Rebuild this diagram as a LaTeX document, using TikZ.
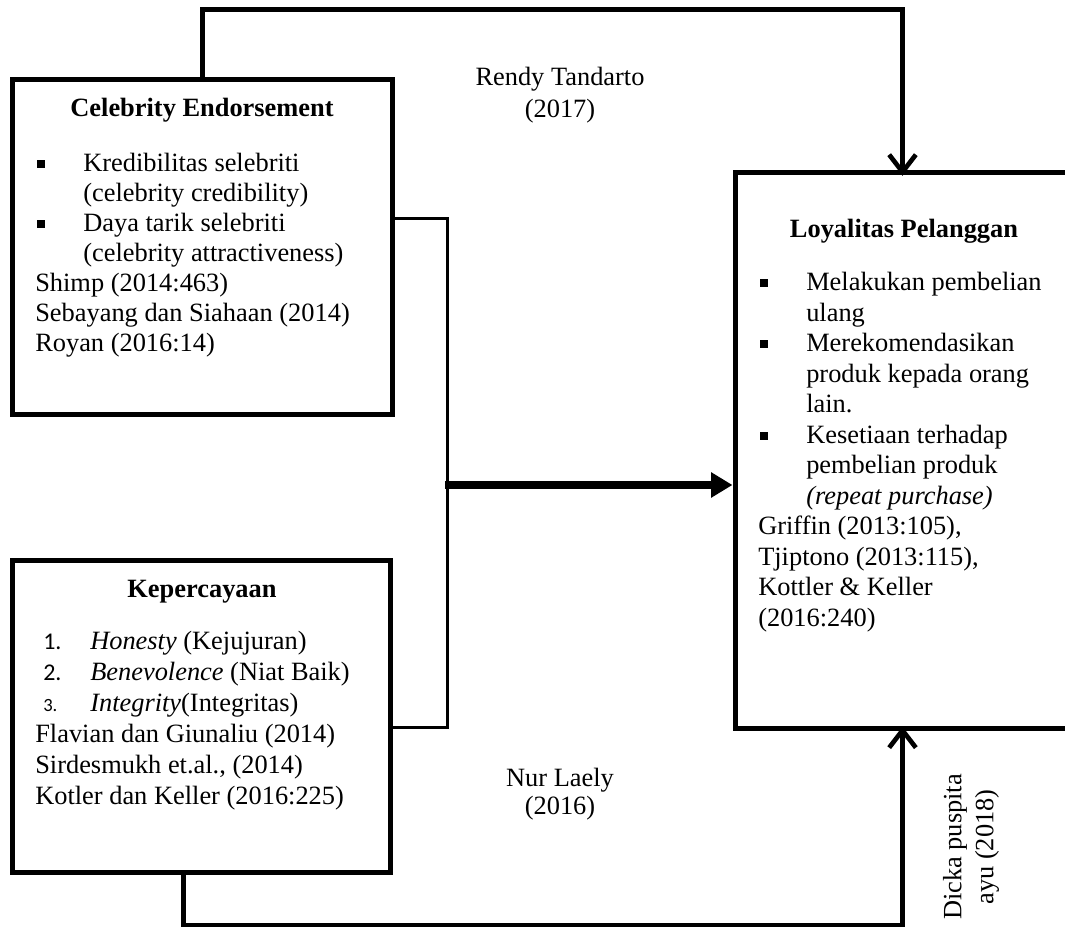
\documentclass[tikz,border=0pt]{standalone}
\usepackage{fontspec}
\setmainfont{Liberation Serif}
\newfontfamily\numfont{Carlito}
\usetikzlibrary{arrows.meta}
\newcommand\sqb{\hspace{1.5pt}\rule[0.14em]{0.3em}{0.3em}}
\begin{document}
\begin{tikzpicture}[x=0.75pt,y=-0.75pt,
  font=\fontsize{19.8}{22.5}\selectfont,
  box/.style={draw, line width=3.75pt, inner sep=0pt},
  conn/.style={line width=3.75pt},
  thinconn/.style={line width=2.25pt},
  fatconn/.style={line width=6pt, -{Triangle[length=16pt,width=18pt]}},
  barb/.style={-{Straight Barb[length=13pt,width=20pt,line width=3.5pt]}},
  txt/.style={inner sep=0pt, anchor=north west}]
\useasboundingbox (0,0) rectangle (1065,927);
% boxes
\node[box, minimum width=285pt, minimum height=251.25pt] (cel) at (202,247.5) {};
\node[box, minimum width=283.5pt, minimum height=234pt] (kep) at (201,716) {};
\node[box, minimum width=251.25pt, minimum height=416.25pt] (loy) at (902.5,450.5) {};
% titles
\node[anchor=base] (celt) at (202,117) {\bfseries Celebrity Endorsement};
\node[anchor=base] (kept) at (202,597) {\bfseries Kepercayaan};
\node[anchor=base] (loyt) at (904,238) {\bfseries Loyalitas Pelanggan};
% contents
\node[txt] (celx) at (35,150) {\begin{tabular}{@{}p{36pt}@{}l@{}}
\sqb & Kredibilitas selebriti\\
 & (celebrity credibility)\\
\sqb & Daya tarik selebriti\\
 & (celebrity attractiveness)\\
\multicolumn{2}{@{}l@{}}{Shimp (2014:463)}\\
\multicolumn{2}{@{}l@{}}{Sebayang dan Siahaan (2014)}\\
\multicolumn{2}{@{}l@{}}{Royan (2016:14)}
\end{tabular}};
\node[txt, font=\fontsize{19.8}{23.2}\selectfont] (kepx) at (35,628) {\begin{tabular}{@{}p{41.25pt}@{}l@{}}
\hspace{6pt}{\numfont\fontsize{18}{20}\selectfont 1.} & \textit{Honesty} (Kejujuran)\\
\hspace{6pt}{\numfont\fontsize{18}{20}\selectfont 2.} & \textit{Benevolence} (Niat Baik)\\
\hspace{6pt}{\numfont\fontsize{14}{16}\selectfont 3.} & \textit{Integrity}(Integritas)\\
\multicolumn{2}{@{}l@{}}{Flavian dan Giunaliu (2014)}\\
\multicolumn{2}{@{}l@{}}{Sirdesmukh et.al., (2014)}\\
\multicolumn{2}{@{}l@{}}{Kotler dan Keller (2016:225)}
\end{tabular}};
\node[txt, font=\fontsize{19.8}{22.9}\selectfont] (loyx) at (758,269) {\begin{tabular}{@{}p{36pt}@{}l@{}}
\sqb & Melakukan pembelian\\
 & ulang\\
\sqb & Merekomendasikan\\
 & produk kepada orang\\
 & lain.\\
\sqb & Kesetiaan terhadap\\
 & pembelian produk\\
 & \textit{(repeat purchase)}\\
\multicolumn{2}{@{}l@{}}{Griffin (2013:105),}\\
\multicolumn{2}{@{}l@{}}{Tjiptono (2013:115),}\\
\multicolumn{2}{@{}l@{}}{Kottler \& Keller}\\
\multicolumn{2}{@{}l@{}}{(2016:240)}
\end{tabular}};
% labels
\node[align=center, font=\fontsize{19.8}{24}\selectfont] (rt) at (560,95) {Rendy Tandarto\\(2017)};
\node[align=center, font=\fontsize{19.8}{21}\selectfont] (nl) at (560,794) {Nur Laely\\(2016)};
\node[align=center, rotate=90, font=\fontsize{19.8}{24}\selectfont] (dp) at (971,847) {Dicka puspita\\ayu (2018)};
% connectors
\draw[conn, barb, shorten >=-4pt] (cel.north) -- ++(0,-68) -| (loy.north);
\path (kep.south) ++(-18,0) coordinate (kb);
\draw[conn, barb, shorten >=-3pt] (kb) -- ++(0,51) -| (loy.south);
\draw[thinconn] ([yshift=22.1pt]cel.east) -- ++(53,0) |- ([yshift=-8.25pt]kep.east);
\coordinate (bm) at (445,485);
\draw[fatconn] (bm) -- (bm -| loy.west);
\end{tikzpicture}
\end{document}
